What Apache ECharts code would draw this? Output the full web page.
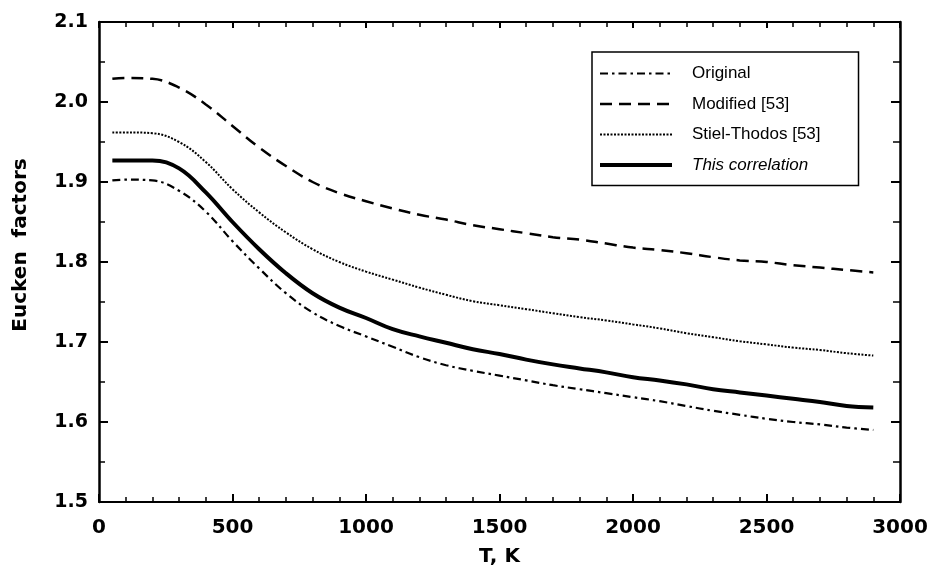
<!DOCTYPE html>
<html>
<head>
<meta charset="utf-8">
<script src="https://cdn.jsdelivr.net/npm/echarts@6/dist/echarts.min.js"></script>
<style>html,body{margin:0;padding:0;background:#fff}#c{width:932px;height:572px}</style>
</head>
<body>
<div id="c"></div>
<script>
const temps = [50,100,200,300,400,500,600,700,800,900,1000,1100,1200,1300,1400,1500,1600,1700,1800,1900,2000,2100,2200,2300,2400,2500,2600,2700,2800,2900];
const original = [1.902,1.903,1.902,1.889,1.863,1.826,1.792,1.761,1.737,1.720,1.707,1.694,1.681,1.671,1.664,1.658,1.652,1.646,1.641,1.636,1.631,1.626,1.620,1.614,1.609,1.604,1.600,1.597,1.593,1.590];
const modified = [2.029,2.030,2.029,2.018,1.997,1.970,1.943,1.920,1.900,1.886,1.876,1.867,1.859,1.853,1.846,1.841,1.836,1.831,1.828,1.823,1.818,1.815,1.811,1.806,1.802,1.800,1.796,1.793,1.790,1.787];
const stielThodos = [1.962,1.962,1.961,1.950,1.925,1.891,1.862,1.837,1.816,1.800,1.788,1.778,1.768,1.759,1.751,1.746,1.741,1.736,1.731,1.727,1.722,1.717,1.711,1.706,1.701,1.697,1.693,1.690,1.686,1.683];
const thisCorrelation = [1.927,1.927,1.927,1.917,1.887,1.850,1.816,1.786,1.761,1.743,1.730,1.716,1.707,1.699,1.691,1.685,1.678,1.672,1.667,1.662,1.656,1.652,1.647,1.641,1.637,1.633,1.629,1.625,1.620,1.618];
const seriesNames = ['Original','Modified [53]','Stiel-Thodos [53]','This correlation'];
const xTitle = 'T, K';
const yTitle = 'Eucken  factors';

const pair = arr => temps.map((t,i)=>[t,arr[i]]);
const chart = echarts.init(document.getElementById('c'));
const lblFont = {fontFamily:'DejaVu Sans', fontWeight:'bold', color:'#000'};
const baseX = {
  type:'value', min:0, max:3000, interval:500, splitNumber:5,
  axisLine:{show:true, onZero:false, lineStyle:{color:'#000', width:2}},
  axisTick:{show:true, inside:true, length:8, lineStyle:{color:'#000', width:2}},
  minorTick:{show:true, splitNumber:5, length:5, lineStyle:{color:'#000', width:1.5}},
  splitLine:{show:false}
};
const baseY = {
  type:'value', min:1.5, max:2.1, interval:0.1,
  axisLine:{show:true, onZero:false, lineStyle:{color:'#000', width:2.5}},
  axisTick:{show:true, inside:true, length:9, lineStyle:{color:'#000', width:2}},
  minorTick:{show:true, splitNumber:2, length:6, lineStyle:{color:'#000', width:1.5}},
  splitLine:{show:false}
};
const styles = [
  {width:2.2, type:[8,4,2.5,4]},
  {width:2.5, type:[12,7]},
  {width:2, type:[2,1.5]},
  {width:4, type:'solid'}
];
const mk = (i, data) => ({
  name:seriesNames[i], type:'line', data:pair(data), symbol:'none', smooth:0.4,
  xAxisIndex:0, yAxisIndex:0, lineStyle:Object.assign({color:'#000'}, styles[i]),
  itemStyle:{color:'#000'}, animation:false
});
chart.setOption({
  backgroundColor:'#fff',
  animation:false,
  grid:{left:99, right:32, top:22, bottom:69},
  xAxis:[
    Object.assign({}, baseX, {position:'bottom',
      name:xTitle, nameLocation:'middle', nameGap:45,
      nameTextStyle:Object.assign({fontSize:20}, lblFont),
      axisLabel:Object.assign({fontSize:20, margin:16, formatter:v=>String(v)}, lblFont)}),
    Object.assign({}, baseX, {position:'top', axisLabel:{show:false},
      axisTick:{show:true, inside:true, length:6, lineStyle:{color:'#000', width:2}},
      minorTick:{show:true, splitNumber:5, length:5, lineStyle:{color:'#000', width:1.5}}})
  ],
  yAxis:[
    Object.assign({}, baseY, {position:'left',
      name:yTitle, nameLocation:'middle', nameGap:68,
      nameTextStyle:Object.assign({fontSize:20, padding:[0,0,0,34]}, lblFont),
      axisLabel:Object.assign({fontSize:19, margin:11, formatter:v=>v.toFixed(1)}, lblFont)}),
    Object.assign({}, baseY, {position:'right', axisLabel:{show:false},
      axisTick:{show:true, inside:true, length:9, lineStyle:{color:'#000', width:2}},
      minorTick:{show:true, splitNumber:2, length:7, lineStyle:{color:'#000', width:1.5}}})
  ],
  legend:{
    show:true, orient:'vertical', left:592, top:52,
    data:seriesNames.map((n,i)=> ({
      name:n,
      lineStyle:{color:'#000', width:styles[i].width, type:styles[i].type},
      textStyle: i===3 ? {fontStyle:'italic'} : {}
    })),
    itemWidth:72, itemHeight:14, itemGap:13.5,
    padding:[13,38,12,6],
    itemStyle:{opacity:0, color:'transparent', borderWidth:0},
    borderColor:'#000', borderWidth:1.5, borderRadius:0,
    textStyle:{fontFamily:'Liberation Sans', fontSize:17, color:'#000', padding:[0,0,0,15]},
    selectedMode:false
  },
  series:[
    mk(0, original),
    mk(1, modified),
    mk(2, stielThodos),
    mk(3, thisCorrelation)
  ]
});
</script>
</body>
</html>
